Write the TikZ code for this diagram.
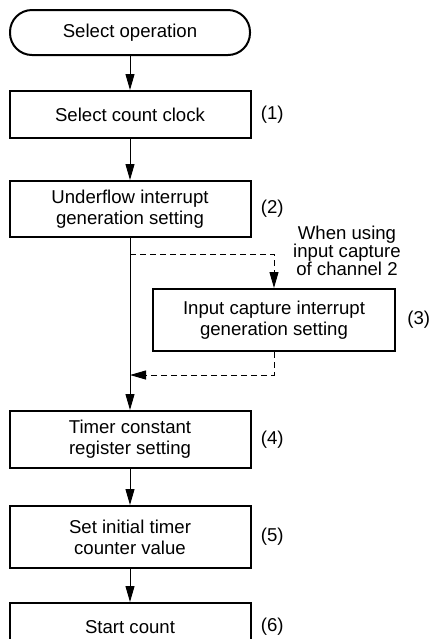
\documentclass[tikz,border=0pt]{standalone}
\usepackage{fontspec}
\setmainfont{Liberation Sans}
\usetikzlibrary{arrows.meta,positioning,calc}

\begin{document}
\begin{tikzpicture}[
  font=\fontsize{9.3}{10.5}\selectfont,
  stepbox/.style={draw,line width=1pt,align=center,minimum width=120.5pt,minimum height=#1},
  stepbox/.default=28pt,
  term/.style={draw,line width=1pt,rounded corners=11pt,minimum width=120pt,minimum height=22.5pt},
  num/.style={inner sep=0pt},
  note/.style={inner sep=0pt,align=center,font=\fontsize{9.3}{9}\selectfont},
  flow/.style={-{Triangle[length=8pt,width=4.5pt]},line width=0.5pt},
  dflow/.style={flow,dash pattern=on 3pt off 2pt}
]
\useasboundingbox (0,0) rectangle (214.5pt,-319.5pt);
\node[term] (start) at (65pt,-16.25pt) {Select operation};
\node[stepbox=23.5pt,below=17pt of start] (clock) {Select count clock};
\node[stepbox=28pt,below=20.5pt of clock] (underflow) {Underflow interrupt\\generation setting};
\node[stepbox=31pt,minimum width=121pt,below=25pt of underflow.south,xshift=72pt] (capture) {Input capture interrupt\\generation setting};
\node[note,above=6pt of capture.north east,xshift=-24.5pt] (when) {When using\\input capture\\of channel 2};
\node[stepbox=28.5pt,below=86pt of underflow] (constant) {Timer constant\\register setting};
\node[stepbox=31pt,below=18pt of constant] (initial) {Set initial timer\\counter value};
\node[stepbox=24pt,below=16.5pt of initial] (count) {Start count};
% step numbers
\node[num,right=4.5pt of clock] (n1) {(1)};
\node[num,right=4.5pt of underflow] (n2) {(2)};
\node[num,right=5.5pt of capture] (n3) {(3)};
\node[num,right=4.5pt of constant] (n4) {(4)};
\node[num,right=4.5pt of initial] (n5) {(5)};
\node[num,right=4.5pt of count] (n6) {(6)};
\coordinate (split) at ($(underflow.south)+(0,-8pt)$);
\coordinate (merge) at ($(capture.south)+(0,-11.5pt)$);
\draw[flow] (start) -- (clock);
\draw[flow] (clock) -- (underflow);
\draw[flow] (underflow) -- (constant);
\draw[dflow] (split) -| (capture.north);
\draw[dflow] (capture.south) |- (underflow.south |- merge);
\draw[flow] (constant) -- (initial);
\draw[flow] (initial) -- (count);
\end{tikzpicture}
\end{document}
